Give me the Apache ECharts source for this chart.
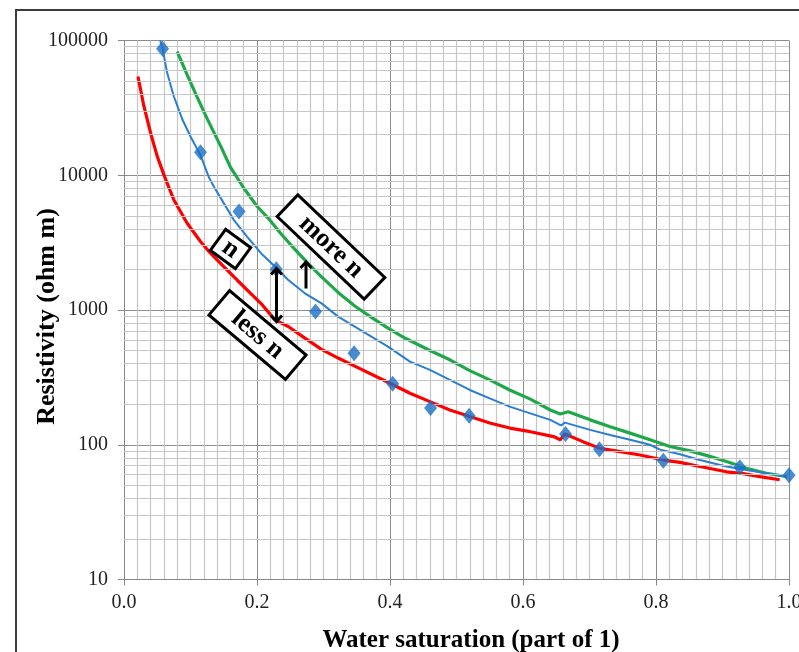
<!DOCTYPE html>
<html>
<head>
<meta charset="utf-8">
<script src="https://cdn.jsdelivr.net/npm/echarts@6/dist/echarts.min.js"></script>
<style>
html,body{margin:0;padding:0;background:#fff;}
#chart{width:799px;height:652px;}
</style>
</head>
<body>
<div id="chart"></div>
<script>
// ---- data ----
const redX = [0.021,0.030,0.040,0.050,0.061,0.075,0.095,0.115,0.130,0.150,0.170,0.190,0.208,0.227,0.247,0.272,0.297,0.322,0.347,0.400,0.430,0.460,0.490,0.520,0.550,0.580,0.611,0.646,0.656,0.663,0.691,0.716,0.746,0.776,0.811,0.836,0.866,0.906,0.931,0.956,0.986];
const redY = [54000,32400,20600,13800,9770,6560,4400,3220,2640,2100,1670,1335,1090,845,754,618,510,440,383,286,241,209,181,162,145,133,125,115,109,120,105,94,89,84,77,74,69,63,61,58,55];

const blueX = [0.0545,0.058,0.065,0.075,0.088,0.100,0.115,0.128,0.135,0.150,0.165,0.185,0.206,0.232,0.247,0.272,0.297,0.322,0.347,0.372,0.397,0.430,0.460,0.490,0.520,0.550,0.580,0.611,0.641,0.657,0.663,0.701,0.731,0.761,0.791,0.806,0.836,0.866,0.906,0.936,0.966,0.997];
const blueY = [100000,86700,57300,38400,25800,19400,14100,9570,8240,6210,4670,3510,2640,1990,1670,1330,1120,893,753,635,535,414,359,303,255,221,192,171,153,139,146,129,118,109,100,92,85,77,69,65,61.4,58];

const greenX = [0.080,0.095,0.110,0.125,0.145,0.160,0.180,0.200,0.217,0.237,0.257,0.277,0.297,0.322,0.347,0.372,0.397,0.423,0.460,0.490,0.520,0.550,0.580,0.611,0.641,0.656,0.668,0.701,0.731,0.761,0.791,0.821,0.851,0.881,0.906,0.936,0.966,0.997];
const greenY = [82800,55600,38000,26300,16600,11500,8040,5890,4790,3630,2820,2210,1760,1350,1070,881,733,617,501,427,355,303,255,218,181,169,176,153,136,122,109,97,90,82,75,67,61.4,58];

const ptX = [0.058,0.115,0.173,0.229,0.288,0.346,0.404,0.461,0.519,0.664,0.715,0.811,0.926,1.0];
const ptY = [86700,14840,5380,2010,973,478,283,187,164,120,92.6,76.2,68.1,59.4];

const xTitle = 'Water saturation (part of 1)';
const yTitle = 'Resistivity (ohm m)';
const decades = [10,100,1000,10000];
const minorMult = [2,3,4,5,6,7,8,9];

// ---- build ----
const zip = (xs, ys) => xs.map((x, i) => [x, ys[i]]);
const minorY = [];
decades.forEach(d => minorMult.forEach(m => minorY.push({yAxis: d * m})));

const serif = '"Liberation Serif","Times New Roman",serif';
const chart = echarts.init(document.getElementById('chart'), null, {renderer: 'canvas'});

function box(cx, cy, w, h, rot, text, fs) {
  return {
    type: 'group', x: cx, y: cy, rotation: rot,
    children: [
      {type: 'rect', z: 100, shape: {x: -w/2, y: -h/2, width: w, height: h},
       style: {fill: '#fff', stroke: '#000', lineWidth: 3}},
      {type: 'text', z: 101, style: {text: text, x: 0, y: 0, align: 'center', verticalAlign: 'middle',
        font: 'bold ' + fs + 'px ' + serif, fill: '#000'}}
    ]
  };
}
const blk = {stroke: '#000', lineWidth: 3, fill: 'none'};

chart.setOption({
  animation: false,
  backgroundColor: '#fff',
  grid: {left: 124, right: 10, top: 40.5, bottom: 72.5, containLabel: false, outerBoundsMode: 'none'},
  xAxis: {
    type: 'value', min: 0, max: 1, interval: 0.2,
    name: xTitle, nameLocation: 'middle', nameGap: 49, nameMoveOverlap: false,
    nameTextStyle: {fontFamily: serif, fontWeight: 'bold', fontSize: 25, color: '#000', padding: [0,0,0,29]},
    axisLine: {show: true, lineStyle: {color: '#888', width: 1}},
    axisTick: {show: true, length: 6, lineStyle: {color: '#888'}},
    axisLabel: {fontFamily: serif, fontSize: 20, color: '#222', margin: 13,
      formatter: v => v.toFixed(1)},
    splitLine: {show: true, lineStyle: {color: '#8c8c8c', width: 1}},
    minorTick: {show: false, splitNumber: 10},
    minorSplitLine: {show: true, lineStyle: {color: '#c6c6c6', width: 1.2}}
  },
  yAxis: {
    type: 'log', logBase: 10, min: 10, max: 100000,
    name: yTitle, nameLocation: 'middle', nameGap: 64, nameMoveOverlap: false,
    nameTextStyle: {fontFamily: serif, fontWeight: 'bold', fontSize: 26, color: '#000', padding: [0,13,0,0]},
    axisLine: {show: true, lineStyle: {color: '#888', width: 1}},
    axisTick: {show: true, length: 6, lineStyle: {color: '#888'}},
    axisLabel: {fontFamily: serif, fontSize: 20, color: '#222', margin: 16,
      formatter: v => String(Math.round(v))},
    splitLine: {show: true, lineStyle: {color: '#8c8c8c', width: 1}}
  },
  series: [
    {type: 'line', data: [[0, 10]], showSymbol: false, silent: true, z: 1,
     lineStyle: {opacity: 0},
     markLine: {silent: true, symbol: ['none','none'], label: {show: false},
       lineStyle: {color: '#c6c6c6', width: 1.2, type: 'solid'},
       emphasis: {disabled: true}, animation: false, data: minorY}},
    {type: 'line', name: 'less n', data: zip(redX, redY), showSymbol: false, z: 3,
     lineStyle: {color: '#ff0000', width: 3.2}},
    {type: 'line', name: 'more n', data: zip(greenX, greenY), showSymbol: false, z: 3,
     lineStyle: {color: '#1fa84a', width: 3.2}},
    {type: 'line', name: 'n', data: zip(blueX, blueY), showSymbol: false, z: 4,
     lineStyle: {color: '#2a7ed2', width: 2}},
    {type: 'scatter', name: 'measured', data: zip(ptX, ptY), symbol: 'diamond', symbolSize: [13, 16], z: 5,
     itemStyle: {color: '#1a6ec4'}}
  ],
  graphic: [
    {type: 'rect', z: 100, shape: {x: 16, y: 10, width: 800, height: 700}, style: {fill: 'none', stroke: '#3c3c3c', lineWidth: 2}},
    box(331, 247, 120, 30, -0.76, 'more n', 26),
    box(257.5, 335, 100, 32, -0.70, 'less n', 26),
    box(230.5, 249, 31, 26, -0.63, 'n', 26),
    {type: 'line', z: 101, shape: {x1: 276.5, y1: 269, x2: 276.5, y2: 321}, style: blk},
    {type: 'polyline', z: 101, shape: {points: [[271, 274.5],[276.5, 268.5],[282, 274.5]]}, style: blk},
    {type: 'polyline', z: 101, shape: {points: [[271, 315.5],[276.5, 321.5],[282, 315.5]]}, style: blk},
    {type: 'line', z: 101, shape: {x1: 306, y1: 262.5, x2: 306, y2: 288.5}, style: blk},
    {type: 'polyline', z: 101, shape: {points: [[300.5, 268],[306, 262],[311.5, 268]]}, style: blk}
  ]
});
</script>
</body>
</html>
